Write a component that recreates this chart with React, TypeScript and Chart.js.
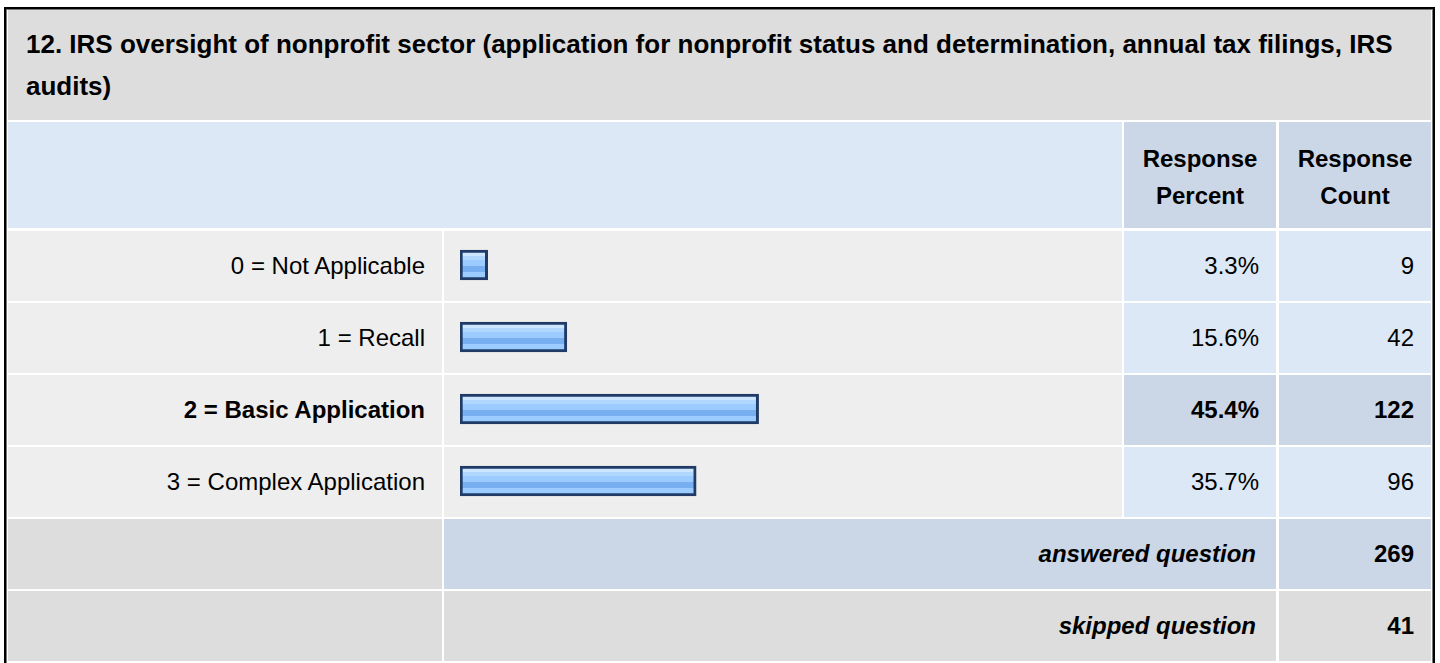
import React, { useEffect, useRef } from "react";
import { Chart, registerables } from "chart.js";

Chart.register(...registerables);

const title =
  "12. IRS oversight of nonprofit sector (application for nonprofit status and determination, annual tax filings, IRS audits)";
const categories = [
  "0 = Not Applicable",
  "1 = Recall",
  "2 = Basic Application",
  "3 = Complex Application",
];
const percents = [3.3, 15.6, 45.4, 35.7];
const counts = [9, 42, 122, 96];
const highlighted = [false, false, true, false];
const answeredCount = 269;
const skippedCount = 41;

const FONT = '"Liberation Sans", Arial, Helvetica, sans-serif';

const C_TITLE = "#dddddd";
const C_LIGHTBLUE = "#dce8f5";
const C_MIDBLUE = "#cbd7e6";
const C_ROW = "#eeeeee";

const ROW_TOP = 231;
const ROW_PITCH = 72;
const ROW_H = 70;

const X_LABEL = 8;
const W_LABEL = 434;
const X_BAR = 444;
const W_BAR = 678;
const X_PCT = 1124;
const W_PCT = 152;
const X_CNT = 1279;
const W_CNT = 152;

function Cell(props: {
  x: number;
  y: number;
  w: number;
  h: number;
  bg: string;
  children?: React.ReactNode;
  align?: "left" | "right" | "center";
  bold?: boolean;
  italic?: boolean;
  pr?: number;
}) {
  const { x, y, w, h, bg, children, align = "right", bold, italic, pr = 17 } = props;
  return (
    <div
      style={{
        position: "absolute",
        left: x,
        top: y,
        width: w,
        height: h,
        background: bg,
        boxSizing: "border-box",
        paddingRight: pr,
        textAlign: align,
        fontSize: 24,
        lineHeight: h + "px",
        fontWeight: bold ? 700 : 400,
        fontStyle: italic ? "italic" : "normal",
        color: "#000",
        whiteSpace: "nowrap",
        overflow: "hidden",
      }}
    >
      {children}
    </div>
  );
}

function BarChart() {
  const ref = useRef<HTMLCanvasElement | null>(null);
  useEffect(() => {
    if (!ref.current) return;
    const chart = new Chart(ref.current, {
      type: "bar",
      data: {
        labels: categories,
        datasets: [
          {
            data: percents,
            base: -1,
            barThickness: 30,
            borderWidth: 3,
            borderColor: "#203b66",
            borderSkipped: false,
            backgroundColor: (ctx: any) => {
              const ch = ctx.chart;
              const ys = ch.scales && ch.scales.y;
              if (!ys || ctx.dataIndex === undefined) return "#9ccbff";
              const c = ys.getPixelForValue(ctx.dataIndex);
              if (!isFinite(c)) return "#9ccbff";
              const top = c - 15;
              const g = ch.ctx.createLinearGradient(0, top, 0, top + 30);
              g.addColorStop(0, "#cce6ff");
              g.addColorStop(0.2, "#cce6ff");
              g.addColorStop(0.2, "#b0d8ff");
              g.addColorStop(0.33, "#b0d8ff");
              g.addColorStop(0.33, "#9ccbff");
              g.addColorStop(0.53, "#9ccbff");
              g.addColorStop(0.53, "#78aff0");
              g.addColorStop(0.73, "#78aff0");
              g.addColorStop(0.73, "#9ccbff");
              g.addColorStop(1, "#9ccbff");
              return g;
            },
          } as any,
        ],
      },
      options: {
        indexAxis: "y",
        animation: false,
        responsive: false,
        maintainAspectRatio: false,
        events: [],
        layout: { padding: { left: 16, right: 12, top: 0, bottom: 0 } },
        scales: {
          x: { type: "linear", min: -1, max: 100, display: false, grid: { display: false } },
          y: { type: "category", display: false, offset: true, grid: { display: false } },
        },
        plugins: {
          legend: { display: false },
          tooltip: { enabled: false },
          title: { display: false },
        },
      },
    });
    return () => chart.destroy();
  }, []);
  return (
    <canvas
      ref={ref}
      width={W_BAR}
      height={ROW_PITCH * 4}
      style={{
        position: "absolute",
        left: X_BAR,
        top: ROW_TOP - 2,
        width: W_BAR,
        height: ROW_PITCH * 4,
      }}
    />
  );
}

export default function App() {
  const ansTop = ROW_TOP + ROW_PITCH * 4;
  const skipTop = ansTop + ROW_PITCH;
  return (
    <div
      style={{
        position: "absolute",
        left: 0,
        top: 0,
        width: 1440,
        height: 663,
        overflow: "hidden",
        background: "#fff",
        fontFamily: FONT,
      }}
    >
      <div
        style={{
          position: "absolute",
          left: 4,
          top: 7,
          width: 1431,
          height: 700,
          boxSizing: "border-box",
          border: "2px solid #000",
          boxShadow: "inset 0 0 0 1px #777",
        }}
      />
      {/* title */}
      <div
        style={{
          position: "absolute",
          left: 8,
          top: 10,
          width: 1423,
          height: 110,
          background: C_TITLE,
        }}
      />
      <div
        style={{
          position: "absolute",
          left: 26,
          top: 23,
          width: 1387,
          fontSize: 26,
          lineHeight: "42px",
          fontWeight: 700,
          color: "#000",
        }}
      >
        {title}
      </div>
      {/* header */}
      <div
        style={{
          position: "absolute",
          left: 8,
          top: 122,
          width: 1114,
          height: 106,
          background: C_LIGHTBLUE,
        }}
      />
      {[
        { x: X_PCT, w: W_PCT, t: ["Response", "Percent"] },
        { x: X_CNT, w: W_CNT, t: ["Response", "Count"] },
      ].map((h, i) => (
        <div
          key={i}
          style={{
            position: "absolute",
            left: h.x,
            top: 122,
            width: h.w,
            height: 106,
            background: C_MIDBLUE,
          }}
        >
          <div
            style={{
              position: "absolute",
              left: 0,
              top: 18,
              width: h.w,
              textAlign: "center",
              fontSize: 24,
              lineHeight: "37px",
              fontWeight: 700,
              color: "#000",
            }}
          >
            {h.t[0]}
            <br />
            {h.t[1]}
          </div>
        </div>
      ))}
      {/* answer rows */}
      {categories.map((c, i) => {
        const y = ROW_TOP + ROW_PITCH * i;
        const hl = highlighted[i];
        return (
          <React.Fragment key={c}>
            <Cell x={X_LABEL} y={y} w={W_LABEL} h={ROW_H} bg={C_ROW} bold={hl}>
              {c}
            </Cell>
            <Cell x={X_BAR} y={y} w={W_BAR} h={ROW_H} bg={C_ROW} />
            <Cell x={X_PCT} y={y} w={W_PCT} h={ROW_H} bg={hl ? C_MIDBLUE : C_LIGHTBLUE} bold={hl}>
              {percents[i].toFixed(1) + "%"}
            </Cell>
            <Cell x={X_CNT} y={y} w={W_CNT} h={ROW_H} bg={hl ? C_MIDBLUE : C_LIGHTBLUE} bold={hl}>
              {counts[i]}
            </Cell>
          </React.Fragment>
        );
      })}
      <BarChart />
      {/* answered */}
      <Cell x={X_LABEL} y={ansTop} w={W_LABEL} h={ROW_H} bg={C_TITLE} />
      <Cell x={X_BAR} y={ansTop} w={X_PCT + W_PCT - X_BAR} h={ROW_H} bg={C_MIDBLUE} bold italic pr={20}>
        answered question
      </Cell>
      <Cell x={X_CNT} y={ansTop} w={W_CNT} h={ROW_H} bg={C_MIDBLUE} bold>
        {answeredCount}
      </Cell>
      {/* skipped */}
      <Cell x={X_LABEL} y={skipTop} w={W_LABEL} h={ROW_H} bg={C_TITLE} />
      <Cell x={X_BAR} y={skipTop} w={X_PCT + W_PCT - X_BAR} h={ROW_H} bg={C_TITLE} bold italic pr={20}>
        skipped question
      </Cell>
      <Cell x={X_CNT} y={skipTop} w={W_CNT} h={ROW_H} bg={C_TITLE} bold>
        {skippedCount}
      </Cell>
    </div>
  );
}
